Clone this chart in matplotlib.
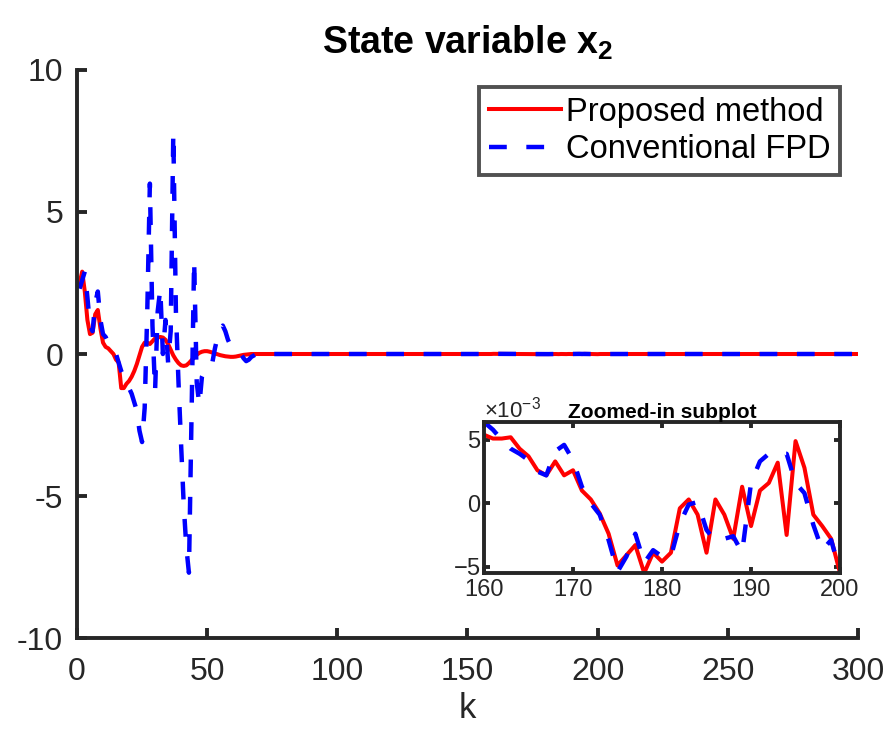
import matplotlib
matplotlib.use("Agg")
import matplotlib.pyplot as plt
from matplotlib.ticker import ScalarFormatter

plt.rcParams["font.family"] = ["Liberation Sans", "DejaVu Sans"]
plt.rcParams["mathtext.fontset"] = "custom"
plt.rcParams["mathtext.rm"] = "Liberation Sans"
plt.rcParams["mathtext.bf"] = "Liberation Sans:bold"
plt.rcParams["axes.unicode_minus"] = False

# transient part, k = 1..69
proposed_start = [2.5, 2.9, 2.2, 1.2, 0.7, 0.75, 1.4, 1.55, 0.9, 0.4,
                  0.25, 0.2, 0.1, 0.0, -0.2, -0.3, -1.2, -1.2, -1.05, -0.95,
                  -0.8, -0.6, -0.35, -0.05, 0.25, 0.4, 0.4, 0.35, 0.45, 0.55,
                  0.58, 0.6, 0.58, 0.5, 0.35, 0.15, -0.05, -0.2, -0.32, -0.4,
                  -0.42, -0.4, -0.32, -0.22, -0.12, -0.03, 0.04, 0.08, 0.1, 0.1,
                  0.08, 0.05, 0.02, -0.01, -0.04, -0.06, -0.08, -0.09, -0.1, -0.1,
                  -0.09, -0.07, -0.05, -0.03, -0.02, -0.01, 0.0, 0.0, 0.0]
conventional_start = [2.3, 2.6, 2.9, 2.0, 1.0, 0.8, 1.8, 2.2, 1.2, 0.7,
                      0.6, 0.4, 0.3, 0.1, 0.0, -0.3, -0.6, -0.8, -1.0, -1.2,
                      -1.4, -1.7, -2.0, -2.7, -3.1, -1.9, 1.5, 6.0, 1.0, -1.3,
                      1.5, 2.3, 0.0, 1.2, -0.3, 0.8, 7.8, 1.5, -1.0, -3.2,
                      -5.3, -6.8, -7.7, -2.3, 3.3, -1.0, -1.8, -0.8, -0.6, -0.5,
                      -0.5, -0.3, 0.2, 0.6, 0.9, 1.0, 0.8, 0.5, 0.3, 0.2,
                      0.15, 0.1, 0.0, -0.15, -0.25, -0.2, -0.1, -0.05, 0.0]

# settled part, k = 160..200 (units of 1e-3)
proposed_zoom = [5.4, 5.1, 5.1, 5.2, 4.3, 3.7, 2.6, 2.2, 3.3, 2.2,
                 2.6, 1.0, 0.3, -0.8, -2.4, -4.9, -4.1, -3.3, -5.5, -3.9,
                 -4.6, -3.9, -0.4, 0.3, -0.9, -3.9, 0.3, -0.9, -2.8, 1.3,
                 -1.8, 1.0, 1.6, 3.2, -2.5, 4.9, 2.8, -0.9, -1.8, -2.8, -5.5]
conventional_zoom = [6.4, 5.8, 5.0, 4.3, 3.9, 3.4, 2.5, 2.2, 4.1, 4.6,
                     3.4, 1.3, 0.0, -0.9, -2.9, -5.4, -4.2, -2.4, -4.7, -3.7,
                     -4.2, -4.2, -1.6, -0.1, 0.1, -2.1, -3.0, -2.8, -2.6, -3.9,
                     1.6, 3.3, 3.9, 3.9, 3.9, 1.6, 0.8, -1.7, -3.7, -2.9, -5.4]

# steps 70..159 and 201..300 sit at zero on the main scale
k_all = list(range(1, 301))
proposed = proposed_start + [0.0] * 90 + [v * 1e-3 for v in proposed_zoom] + [0.0] * 100
conventional = conventional_start + [0.0] * 90 + [v * 1e-3 for v in conventional_zoom] + [0.0] * 100
k_zoom = list(range(160, 201))

spine_col = "#262626"
dash = (4.0, 4.4)

fig = plt.figure(figsize=(8.91, 7.47), dpi=100)
ax = fig.add_axes([0.0864, 0.1459, 0.8765, 0.7604])

ax.plot(k_all, proposed, color="red", lw=2.9, label="Proposed method")
ax.plot(k_all, conventional, color="blue", lw=3.2, dashes=dash,
        label="Conventional FPD")

ax.set_xlim(0, 300)
ax.set_ylim(-10, 10)
ax.set_xticks([0, 50, 100, 150, 200, 250, 300])
ax.set_yticks([-10, -5, 0, 5, 10])
for s in ["top", "right"]:
    ax.spines[s].set_visible(False)
for s in ["left", "bottom"]:
    ax.spines[s].set_linewidth(2.8)
    ax.spines[s].set_color(spine_col)
ax.tick_params(direction="in", length=7, width=2.8, color=spine_col,
               labelsize=23, labelcolor="#262626")
ax.tick_params(axis="x", pad=14)
ax.tick_params(axis="y", pad=10)
ax.set_xlabel("k", fontsize=25, color="#262626", labelpad=3)
ax.set_title(r"State variable $\mathbf{x_2}$", fontsize=27, fontweight="bold", pad=12)

leg = ax.legend(loc="upper right", bbox_to_anchor=(0.9428, 0.8835),
                bbox_transform=fig.transFigure, fontsize=23.5, frameon=True,
                fancybox=False, edgecolor="#262626", handlelength=2.2,
                borderpad=0.3, labelspacing=0.2, handletextpad=0.15,
                borderaxespad=0)
leg.get_frame().set_linewidth(2.8)

# inset
ins = fig.add_axes([0.5432, 0.2329, 0.3996, 0.2021])
ins.plot(k_zoom, [v * 1e-3 for v in proposed_zoom], color="red", lw=2.9)
ins.plot(k_zoom, [v * 1e-3 for v in conventional_zoom], color="blue", lw=3.2,
         dashes=dash)
ins.set_xlim(160, 200)
ins.set_ylim(-5.5e-3, 6.4e-3)
ins.set_xticks([160, 170, 180, 190, 200])
ins.set_yticks([-5e-3, 0, 5e-3])
fmt = ScalarFormatter(useMathText=True)
fmt.set_powerlimits((-2, 2))
ins.yaxis.set_major_formatter(fmt)
ins.yaxis.get_offset_text().set_fontsize(16)
ins.yaxis.get_offset_text().set_color("#555555")
for s in ins.spines.values():
    s.set_linewidth(2.8)
    s.set_color(spine_col)
ins.tick_params(direction="in", length=4, width=2.8, color=spine_col,
                labelsize=17, labelcolor="#262626", top=True, right=True)
ins.tick_params(axis="y", pad=2)
ins.tick_params(axis="x", pad=4)
ins.set_title("Zoomed-in subplot", fontsize=15, fontweight="bold", pad=3)

fig.savefig("out.png", dpi=100)
